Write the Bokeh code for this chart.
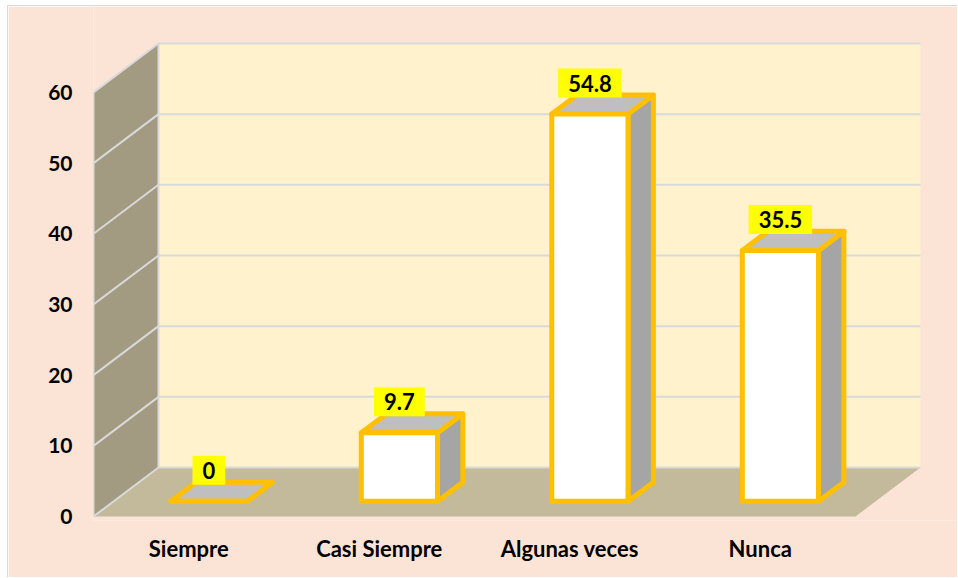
from bokeh.plotting import figure
from bokeh.models import Range1d, FixedTicker
from bokeh.embed import file_html
from bokeh.resources import INLINE
from bokeh.core.properties import value

# ---- data ----
categories = ["Siempre", "Casi Siempre", "Algunas veces", "Nunca"]
values = [0, 9.7, 54.8, 35.5]
value_labels = ["0", "9.7", "54.8", "35.5"]
y_ticks = [0, 10, 20, 30, 40, 50, 60]

# ---- layout / style ----
W, H = 950, 572
LEFT, BOTTOM = 85, 58
CAT_PX = 190.5          # px per category on the front plane
VAL_PX = 7.067          # px per value unit
DEPTH_DX_PX, DEPTH_DY_PX = 65, 49
DX = DEPTH_DX_PX / CAT_PX
DY = DEPTH_DY_PX / VAL_PX
D0, D1 = 0.31, 0.70     # bar depth span (fraction of floor depth)
BAR_W = 0.40
YMAX = y_ticks[-1]
NCAT = len(categories)
LABEL_OFF_PX = 31

BG = "#FBE4D6"
BACK_WALL = "#FFF2CC"
SIDE_WALL = "#A29A81"
FLOOR = "#C3BA9B"
GRID = "#D9D9D9"
GOLD = "#FFC000"
FONT = "Lato"

frame_h = H - BOTTOM
y0 = -4 / VAL_PX
p = figure(width=W, height=H, output_backend="svg", toolbar_location=None,
           x_range=Range1d(0, (W - LEFT) / CAT_PX),
           y_range=Range1d(y0, y0 + frame_h / VAL_PX),
           min_border_left=LEFT, min_border_right=0, min_border_top=0,
           min_border_bottom=BOTTOM)
p.styles = {"margin-left": "7px", "margin-top": "5px",
            "border-left": "1px solid #D9D9D9", "border-top": "1px solid #D9D9D9"}
p.background_fill_color = BG
p.border_fill_color = BG
p.outline_line_color = None
p.xgrid.visible = False
p.ygrid.visible = False


def proj(u, v, d):
    return u + d * DX, v + d * DY


def poly(pts):
    xs, ys = zip(*[proj(*pt) for pt in pts])
    return list(xs), list(ys)


# walls and floor
walls = [
    (poly([(0, 0, 0), (0, YMAX, 0), (0, YMAX, 1), (0, 0, 1)]), SIDE_WALL),
    (poly([(0, 0, 1), (NCAT, 0, 1), (NCAT, YMAX, 1), (0, YMAX, 1)]), BACK_WALL),
    (poly([(0, 0, 0), (NCAT, 0, 0), (NCAT, 0, 1), (0, 0, 1)]), FLOOR),
]
p.patches(xs=[w[0][0] for w in walls], ys=[w[0][1] for w in walls],
          fill_color=[w[1] for w in walls], line_color=None)

# gridlines
gx, gy = [], []
for t in y_ticks:
    xs, ys = poly([(0, t, 0), (0, t, 1), (NCAT, t, 1)])
    gx.append(xs)
    gy.append(ys)
xs, ys = poly([(0, 0, 1), (0, YMAX, 1)])
gx.append(xs); gy.append(ys)
xs, ys = poly([(0, 0, 0), (0, YMAX, 0)])
gx.append(xs); gy.append(ys)
p.multi_line(xs=gx, ys=gy, line_color=GRID, line_width=2)

# bars
bx, by, bc = [], [], []
lx, ly = [], []
for i, v in enumerate(values):
    uc = i + 0.5
    ul, ur = uc - BAR_W / 2, uc + BAR_W / 2
    side = poly([(ur, 0, D0), (ur, 0, D1), (ur, v, D1), (ur, v, D0)])
    top = poly([(ul, v, D0), (ur, v, D0), (ur, v, D1), (ul, v, D1)])
    front = poly([(ul, 0, D0), (ur, 0, D0), (ur, v, D0), (ul, v, D0)])
    for (xs, ys), c in ((side, "#A5A5A5"), (top, "#BFBFBF"), (front, "#FFFFFF")):
        bx.append(xs); by.append(ys); bc.append(c)
    cx, cy = proj(uc, v, D0)
    lx.append(cx)
    ly.append(cy + LABEL_OFF_PX / VAL_PX)
p.patches(xs=bx, ys=by, fill_color=bc, line_color=GOLD, line_width=5,
          line_join="round")

p.text(x=lx, y=ly, text=value_labels, text_align="center", text_baseline="middle",
       text_font=value(FONT), text_font_style="bold", text_font_size="22px",
       text_color="#000000", background_fill_color="#FFFF00",
       padding=dict(left=10, right=10, top=6, bottom=6))

# axes
p.yaxis.ticker = FixedTicker(ticks=y_ticks)
p.xaxis.ticker = FixedTicker(ticks=[i + 0.5 for i in range(NCAT)])
p.xaxis.major_label_overrides = {i + 0.5: c for i, c in enumerate(categories)}
for ax in (p.xaxis, p.yaxis):
    ax.axis_line_color = None
    ax.major_tick_line_color = None
    ax.minor_tick_line_color = None
    ax.major_label_text_font = FONT
    ax.major_label_text_font_style = "bold"
    ax.major_label_text_color = "#000000"
p.xaxis.major_label_text_font_size = "22px"
p.yaxis.major_label_text_font_size = "21px"
p.yaxis.major_label_standoff = 15
p.xaxis.major_label_standoff = 8

open("out.html", "w").write(file_html(p, INLINE))
